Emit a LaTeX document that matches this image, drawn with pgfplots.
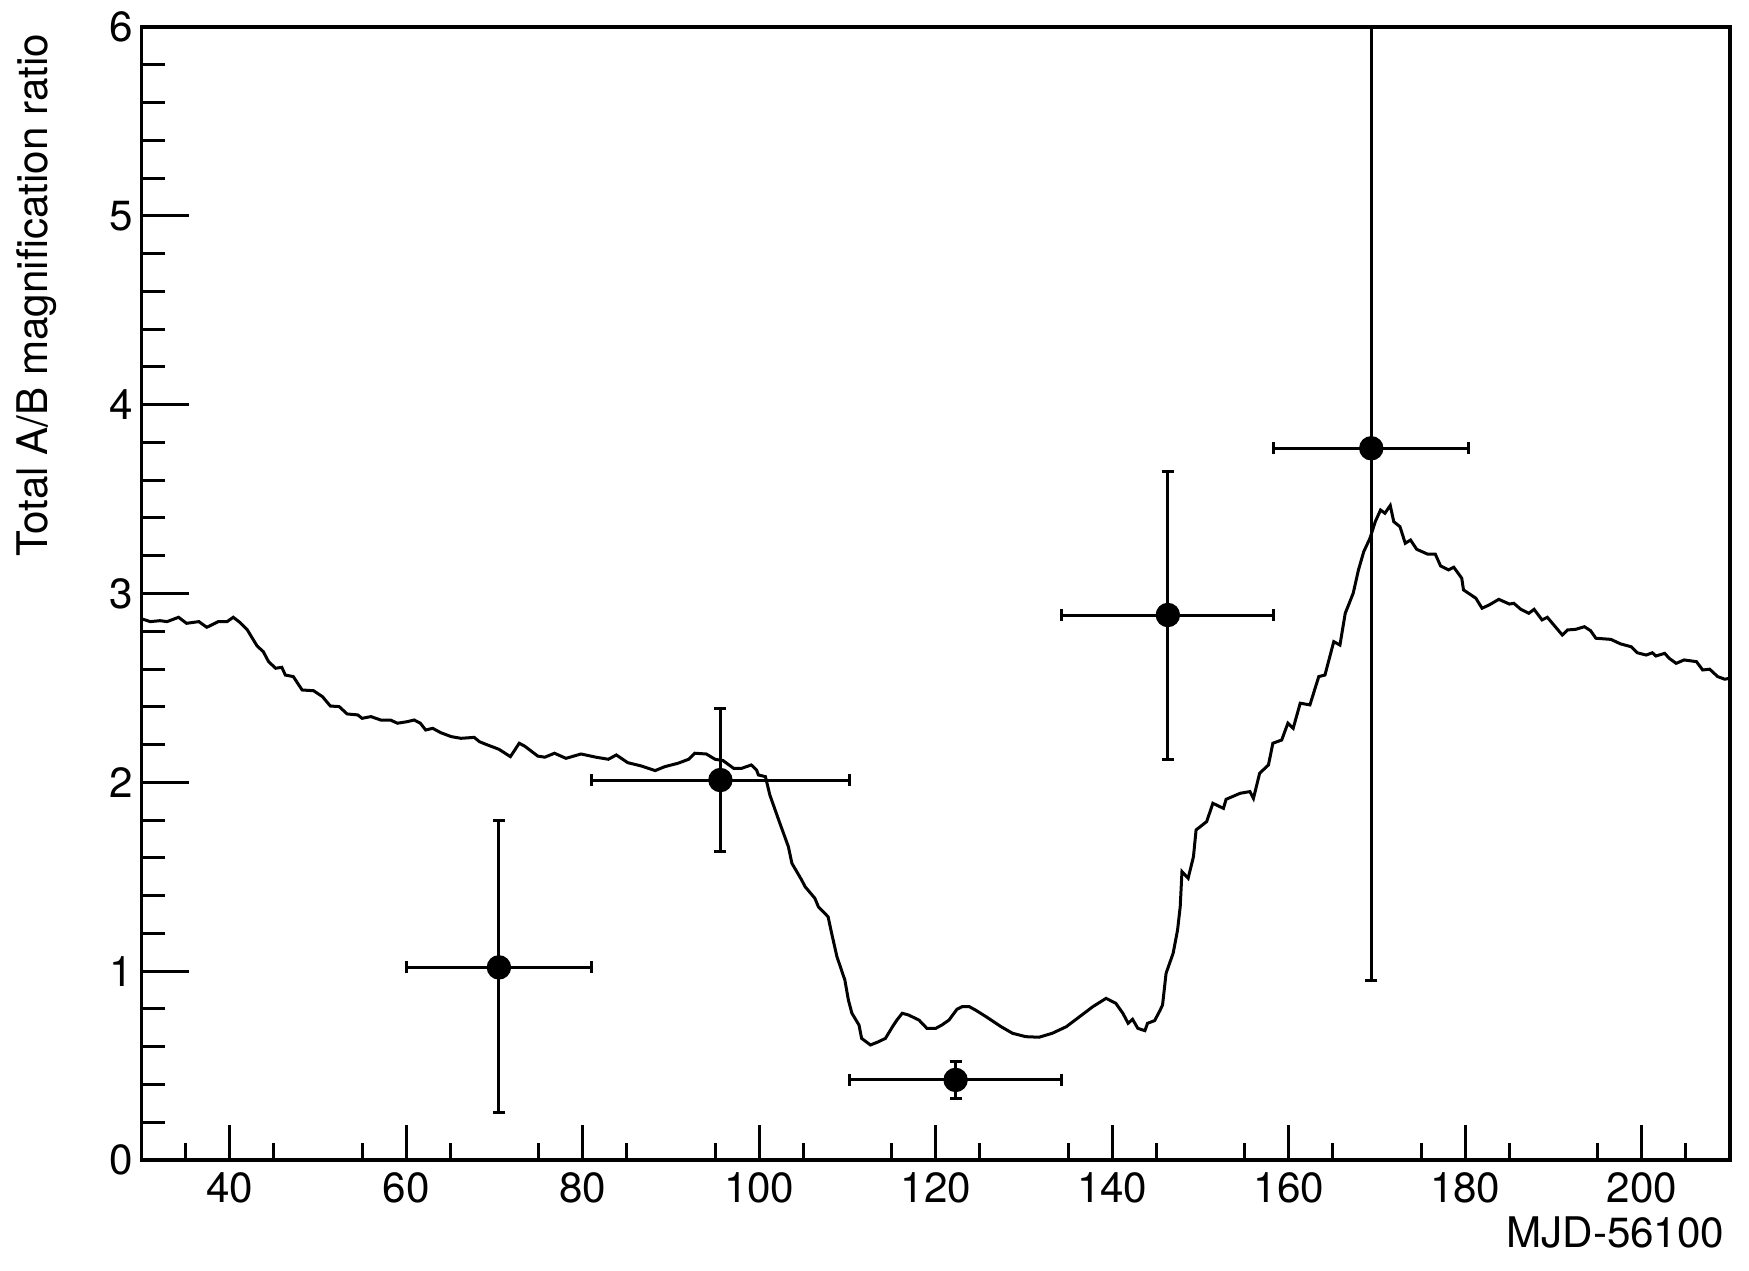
\documentclass[border=0pt]{standalone}
\usepackage{fontspec}
\setmainfont{TeX Gyre Heros}
\usepackage{pgfplots}
\pgfplotsset{compat=1.18}
\begin{document}
\begin{tikzpicture}
\useasboundingbox (0,0) rectangle (174.9mm,127.1mm);
\begin{axis}[
  at={(14.15mm,11.1mm)}, anchor=south west,
  scale only axis, width=158.85mm, height=113.3mm,
  xmin=30, xmax=210, ymin=0, ymax=6,
  axis line style={line width=0.33mm},
  tick pos=left, tick align=inside,
  xtick={40,60,...,200}, ytick={0,1,...,6},
  minor xtick={35,45,...,205}, minor ytick={0.2,0.4,...,5.8},
  tick style={line width=0.3mm, black},
  major tick length=4.7mm, minor tick length=2.3mm,
  xtick style={/pgfplots/major tick length=3.5mm,/pgfplots/minor tick length=1.7mm},
  /pgf/number format/assume math mode=true,
  tick label style={font=\fontsize{12}{14}\selectfont},
  xticklabel style={anchor=north, inner sep=0pt, yshift=-1.2mm},
  yticklabel style={anchor=east, inner sep=0pt, xshift=-0.75mm},
  clip=true,
]
\addplot[black, line width=0.3mm, no markers] table {
30.0 2.860
30.2 2.863
31.0 2.851
32.1 2.856
32.9 2.851
34.2 2.874
35.1 2.842
36.5 2.851
37.4 2.821
38.7 2.851
39.7 2.851
40.4 2.874
41.2 2.845
42.0 2.807
42.5 2.768
43.1 2.722
43.8 2.692
44.4 2.639
45.2 2.604
45.9 2.609
46.3 2.568
47.2 2.560
48.2 2.489
49.5 2.485
50.5 2.454
51.4 2.404
52.4 2.401
53.3 2.362
54.5 2.357
55.0 2.339
56.0 2.348
57.1 2.330
58.2 2.330
59.0 2.313
60.1 2.321
60.9 2.330
61.6 2.313
62.2 2.277
63.0 2.286
63.9 2.263
65.1 2.242
66.2 2.233
67.7 2.238
68.3 2.215
69.2 2.198
70.5 2.175
71.1 2.157
71.8 2.136
72.3 2.171
72.8 2.207
73.4 2.192
74.0 2.171
74.9 2.139
75.7 2.133
76.8 2.154
78.1 2.127
79.8 2.150
81.5 2.133
82.9 2.122
83.8 2.145
85.1 2.104
86.6 2.087
88.2 2.062
89.3 2.083
90.8 2.101
92.0 2.122
92.7 2.154
94.0 2.150
95.0 2.122
95.9 2.115
97.1 2.074
98.0 2.074
99.1 2.092
99.7 2.065
99.9 2.039
100.7 2.030
101.2 1.933
102.2 1.801
103.3 1.659
103.7 1.571
104.8 1.483
105.2 1.447
106.3 1.386
106.7 1.341
107.8 1.288
108.2 1.201
108.8 1.077
109.7 0.953
110.1 0.847
110.5 0.777
111.3 0.715
111.6 0.644
112.6 0.609
113.5 0.626
114.3 0.644
115.1 0.706
115.6 0.741
116.2 0.777
116.9 0.768
118.1 0.741
119.0 0.697
120.0 0.697
120.7 0.715
121.5 0.741
122.4 0.798
123.0 0.812
123.8 0.812
124.5 0.794
125.7 0.759
127.4 0.706
128.7 0.671
130.2 0.653
131.7 0.650
133.2 0.671
134.8 0.706
136.3 0.759
137.8 0.812
139.3 0.856
140.4 0.830
141.2 0.777
141.8 0.724
142.3 0.745
142.9 0.697
143.7 0.685
144.0 0.724
144.8 0.738
145.4 0.791
145.7 0.821
146.1 0.989
146.9 1.095
147.4 1.218
147.7 1.341
147.9 1.527
148.6 1.492
149.2 1.606
149.5 1.748
150.7 1.792
151.4 1.889
152.6 1.862
152.9 1.910
154.5 1.942
155.6 1.951
156.0 1.915
156.7 2.048
157.7 2.092
158.2 2.207
159.2 2.224
159.9 2.313
160.5 2.286
161.3 2.419
162.4 2.410
163.4 2.560
164.1 2.568
165.1 2.745
165.8 2.727
166.4 2.895
167.3 3.001
167.9 3.125
168.5 3.222
169.2 3.292
169.8 3.380
170.4 3.442
170.9 3.425
171.5 3.466
171.9 3.380
172.6 3.354
173.2 3.266
173.8 3.283
174.5 3.234
175.7 3.209
176.6 3.209
177.2 3.146
178.1 3.125
178.7 3.139
179.6 3.081
179.8 3.019
181.2 2.975
181.9 2.922
182.7 2.939
183.8 2.969
185.0 2.944
185.5 2.948
186.3 2.916
187.2 2.895
187.8 2.916
188.7 2.860
189.3 2.874
190.2 2.824
191.0 2.780
191.6 2.807
192.5 2.810
193.5 2.824
194.2 2.803
194.8 2.763
196.5 2.757
197.6 2.733
198.8 2.718
199.5 2.686
200.5 2.674
201.2 2.686
201.6 2.669
202.6 2.683
203.1 2.657
203.9 2.630
204.8 2.648
206.2 2.639
206.9 2.595
207.7 2.599
208.6 2.560
209.4 2.546
210.0 2.551
};
\addplot[black, only marks, mark=*, mark size=1.15mm,
  error bars/.cd, x dir=both, x explicit, y dir=both, y explicit,
  error bar style={line width=0.3mm, black},
  error mark options={rotate=90, mark size=0.6mm, line width=0.3mm, black}]
  table[x=x, y=y, x error=ex, y error plus=eyp, y error minus=eym] {
x y ex eyp eym
70.5 1.020 10.5 0.776 0.766
95.6 2.012 14.6 0.380 0.379
122.25 0.424 12.05 0.097 0.097
146.3 2.886 12.0 0.759 0.764
169.35 3.769 11.05 2.818 2.818
};
\end{axis}
\node[rotate=90, anchor=base east, inner sep=0pt, font=\fontsize{12}{14}\selectfont] at (4.7mm,123.8mm) {Total A/B magnification ratio};
\node[anchor=base east, inner sep=0pt, font=\fontsize{12}{14}\selectfont] at (172.5mm,2.3mm) {MJD-56100};
\end{tikzpicture}
\end{document}
